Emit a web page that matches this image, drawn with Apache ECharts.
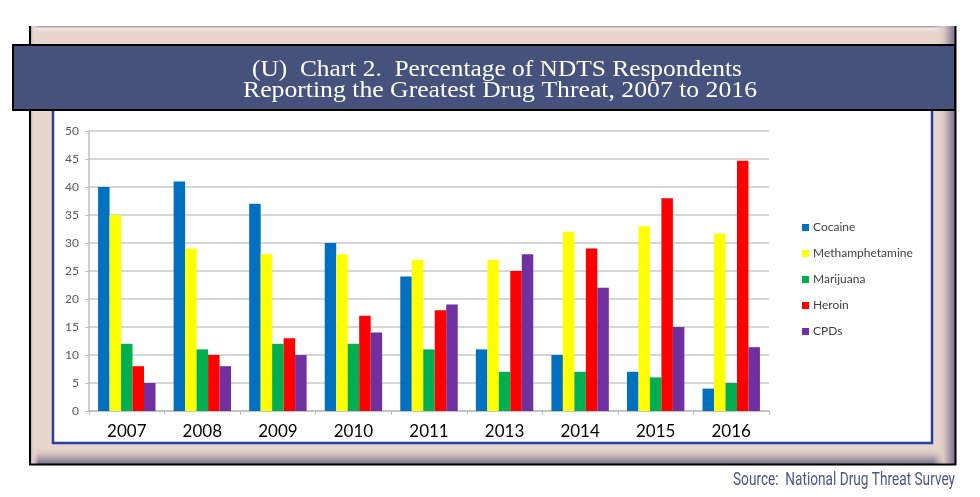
<!DOCTYPE html>
<html>
<head>
<meta charset="utf-8">
<script src="https://cdn.jsdelivr.net/npm/echarts@6/dist/echarts.min.js"></script>
<style>
html,body{margin:0;padding:0;background:#fff;}
#chart{width:980px;height:497px;}
</style>
</head>
<body>
<div id="chart"></div>
<script>
var years = ['2007','2008','2009','2010','2011','2013','2014','2015','2016'];
var cocaine = [40, 41, 37, 30, 24, 11, 10, 7, 4];
var meth = [35, 29, 28, 28, 27, 27, 32, 33, 31.7];
var marijuana = [12, 11, 12, 12, 11, 7, 7, 6, 5];
var heroin = [8, 10, 13, 17, 18, 25, 29, 38, 44.7];
var cpds = [5, 8, 10, 14, 19, 28, 22, 15, 11.4];
var seriesNames = ['Cocaine','Methamphetamine','Marijuana','Heroin','CPDs'];
var seriesColors = ['#0070c0','#ffff00','#00b050','#ff0000','#7030a0'];
var yTicks = [0,5,10,15,20,25,30,35,40,45,50];
var titleLines = ['(U)  Chart 2.  Percentage of NDTS Respondents', 'Reporting the Greatest Drug Threat, 2007 to 2016'];
var sourceText = 'Source:  National Drug Threat Survey';

var mctx = document.createElement('canvas').getContext('2d');
function fitScale(text, font, target){
  mctx.font = font;
  var w = mctx.measureText(text).width;
  return w > 0 ? target / w : 1;
}
var titleFont = '23px "Liberation Serif"';
var srcFont = '19px Roboto';
var s1 = fitScale(titleLines[0], titleFont, 490);
var s2 = fitScale(titleLines[1], titleFont, 514);
var s3 = fitScale(sourceText, srcFont, 222);

var chart = echarts.init(document.getElementById('chart'), null, {renderer:'canvas'});
var dataSets = [cocaine, meth, marijuana, heroin, cpds];
var series = dataSets.map(function(d,i){
  return {
    name: seriesNames[i], type:'bar', data:d,
    itemStyle:{color:seriesColors[i]},
    barGap:'0%', barCategoryGap:'24%', z:3
  };
});

var shade = '#6f6a88';
chart.setOption({
  animation:false,
  textStyle:{fontFamily:'Lato'},
  graphic:[
    {type:'rect', z:-10, shape:{x:29,y:26,width:927,height:439}, style:{fill:'#e8d5ce'}},
    {type:'rect', z:-9, shape:{x:29,y:26,width:927,height:8}, style:{fill:new echarts.graphic.LinearGradient(0,0,0,1,[{offset:0,color:'#9a9090'},{offset:0.3,color:'#f4e9e5'},{offset:1,color:'rgba(232,213,206,0)'}])}},
    {type:'rect', z:-9, shape:{x:29,y:444,width:927,height:21}, style:{fill:new echarts.graphic.LinearGradient(0,0,0,1,[{offset:0,color:'rgba(232,213,206,0)'},{offset:0.45,color:'#d9c6c3'},{offset:1,color:shade}])}},
    {type:'rect', z:-9, shape:{x:933,y:26,width:23,height:439}, style:{fill:new echarts.graphic.LinearGradient(0,0,1,0,[{offset:0,color:'rgba(232,213,206,0)'},{offset:0.45,color:'#dccac6'},{offset:1,color:shade}])}},
    {type:'rect', z:-9, shape:{x:29,y:26,width:10,height:439}, style:{fill:new echarts.graphic.LinearGradient(0,0,1,0,[{offset:0,color:'#8f8588'},{offset:0.4,color:'#e8d5ce'},{offset:1,color:'rgba(232,213,206,0)'}])}},
    {type:'polyline', z:-8, shape:{points:[[30,26],[30,464.5],[955.5,464.5],[955.5,26]]}, style:{stroke:'#000',lineWidth:2,fill:null}},
    {type:'rect', z:-7, shape:{x:52,y:105,width:881,height:339}, style:{fill:'#ffffff'}},
    {type:'polyline', z:-6, shape:{points:[[53,105],[53,443],[932,443],[932,105]]}, style:{stroke:'#2b3fa0',lineWidth:2.5,fill:null}},
    {type:'rect', z:5, shape:{x:13,y:45,width:942,height:65}, style:{fill:'#45527c',stroke:'#000',lineWidth:2}},
    {type:'text', z:6, x:497, y:69.5, scaleX:s1, style:{text:titleLines[0], fill:'#ffffff', font:titleFont, textAlign:'center', textVerticalAlign:'middle'}},
    {type:'text', z:6, x:500, y:90.5, scaleX:s2, style:{text:titleLines[1], fill:'#ffffff', font:titleFont, textAlign:'center', textVerticalAlign:'middle'}},
    {type:'text', z:6, x:955, y:480, scaleX:s3, style:{text:sourceText, fill:'#4b5585', font:srcFont, textAlign:'right', textVerticalAlign:'middle'}}
  ],
  grid:{left:89, right:211, top:131, bottom:86},
  legend:{
    orient:'vertical', left:797, top:215, icon:'rect', itemWidth:7, itemHeight:7, itemGap:11,
    textStyle:{fontSize:12, color:'#404040', fontFamily:'Lato', lineHeight:15, padding:[0,0,0,-1]},
    data:seriesNames
  },
  xAxis:{
    type:'category', data:years,
    axisLine:{show:true, lineStyle:{color:'#bfbfbf', width:1.5}},
    axisTick:{show:true, length:4, lineStyle:{color:'#bfbfbf'}},
    axisLabel:{fontSize:17, color:'#000', fontFamily:'Lato', margin:12}
  },
  yAxis:{
    type:'value', min:0, max:50, interval:5,
    axisLine:{show:true, lineStyle:{color:'#bfbfbf', width:1.5}},
    axisTick:{show:true, length:4, lineStyle:{color:'#bfbfbf'}},
    axisLabel:{fontSize:12, color:'#595959', fontFamily:'Lato', margin:10,
      formatter:function(v){ return yTicks.indexOf(v) >= 0 ? String(v) : ''; }},
    splitLine:{show:true, lineStyle:{color:'#c9c9c9', width:1.5}}
  },
  series:series
});
</script>
</body>
</html>
